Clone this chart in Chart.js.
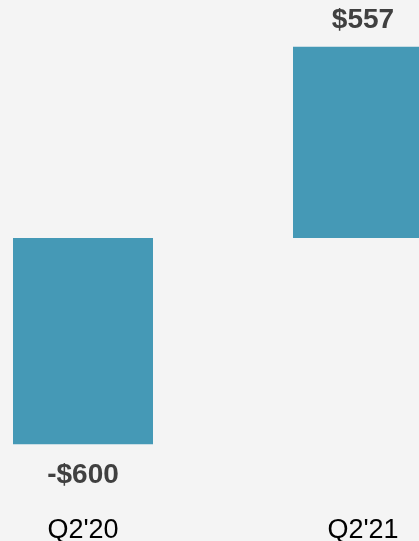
<!DOCTYPE html>
<html>
<head>
<meta charset="utf-8">
<script src="https://cdn.jsdelivr.net/npm/chart.js@4"></script>
<style>
html,body{margin:0;padding:0;width:419px;height:541px;overflow:hidden;background:#f4f4f4;}
#wrap{position:absolute;left:-57px;top:0;width:560px;height:551px;}
</style>
</head>
<body>
<div id="wrap"><canvas id="c"></canvas></div>
<script>
const categories = ["Q2'20", "Q2'21"];
const values = [-600, 557];
const valueLabels = ["-$600", "$557"];

const labelPlugin = {
  id: 'valueLabels',
  afterDatasetsDraw(chart) {
    const ctx = chart.ctx;
    const meta = chart.getDatasetMeta(0);
    ctx.save();
    ctx.font = 'bold 28px "Liberation Sans", Arial, sans-serif';
    ctx.fillStyle = '#404040';
    ctx.textAlign = 'center';
    ctx.textBaseline = 'middle';
    meta.data.forEach((bar, i) => {
      const v = values[i];
      const y = v >= 0 ? bar.y - 26 : bar.y + 31;
      ctx.fillText(valueLabels[i], bar.x, y);
    });
    ctx.restore();
  }
};

new Chart(document.getElementById('c'), {
  type: 'bar',
  data: {
    labels: categories,
    datasets: [{
      data: values,
      backgroundColor: '#4599b6',
      borderWidth: 0,
      categoryPercentage: 1.0,
      barPercentage: 0.5
    }]
  },
  options: {
    responsive: true,
    maintainAspectRatio: false,
    animation: false,
    layout: { padding: 0 },
    plugins: { legend: { display: false }, tooltip: { enabled: false } },
    scales: {
      x: {
        offset: true,
        grid: { display: false },
        border: { display: false },
        ticks: {
          color: '#000',
          padding: 4,
          font: { family: '"Liberation Sans", Arial, sans-serif', size: 27, lineHeight: 1.2 }
        }
      },
      y: {
        display: false,
        min: -770,
        max: 693
      }
    }
  },
  plugins: [labelPlugin]
});
</script>
</body>
</html>
